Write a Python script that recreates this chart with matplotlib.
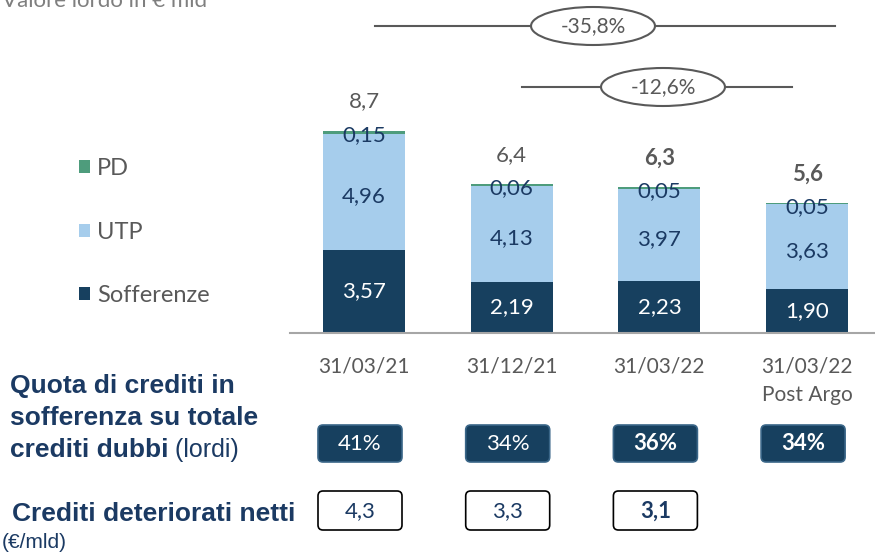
import matplotlib
matplotlib.use('Agg')
import matplotlib.pyplot as plt
from matplotlib.patches import Ellipse, FancyBboxPatch
import numpy as np

categories = ['31/03/21', '31/12/21', '31/03/22', '31/03/22\nPost Argo']
sofferenze = [3.57, 2.19, 2.23, 1.90]
utp = [4.96, 4.13, 3.97, 3.63]
pd_vals = [0.15, 0.06, 0.05, 0.05]
totals = ['8,7', '6,4', '6,3', '5,6']
totals_bold = [False, False, True, True]
quota = ['41%', '34%', '36%', '34%']
quota_bold = [False, False, True, True]
netti = ['4,3', '3,3', '3,1']
netti_bold = [False, False, True]
deltas = ['-35,8%', '-12,6%']

navy = '#17405F'
light = '#A6CDEC'
green = '#4E9C7C'
grey = '#595959'
txtnavy = '#1B3A63'
font = 'Lato'

W, H = 875, 554
fig = plt.figure(figsize=(W / 100, H / 100), dpi=100)

# bar axes: baseline at y=333px, left edge 290px
base = 333
ppu = 23.3
ax = fig.add_axes([290 / W, (H - base) / H, 585 / W, base / H])
ax.set_ylim(0, base / ppu)
x = np.arange(len(categories))
sp = 147.7
ax.set_xlim((290 - 364) / sp, (875 - 364) / sp)
bw = 82 / sp

s = np.array(sofferenze)
u = np.array(utp)
p = np.array(pd_vals)
b1 = ax.bar(x, s, bw, color=navy, label='Sofferenze')
b2 = ax.bar(x, u, bw, bottom=s, color=light, label='UTP')
b3 = ax.bar(x, p, bw, bottom=s + u, color=green, label='PD')

for i in x:
    ax.text(i, s[i] / 2, f'{sofferenze[i]:.2f}'.replace('.', ','), ha='center', va='center',
            color='white', fontsize=16, family=font)
    ax.annotate(f'{utp[i]:.2f}'.replace('.', ','), (i, s[i] + u[i] / 2), xytext=(0, -3),
                textcoords='offset points', ha='center', va='center', color=txtnavy,
                fontsize=16, family=font)
    top = s[i] + u[i] + p[i]
    ax.annotate(f'{pd_vals[i]:.2f}'.replace('.', ','), (i, top), xytext=(0, -3),
                textcoords='offset points', ha='center', va='center', color=txtnavy,
                fontsize=16, family=font)
    ax.annotate(totals[i], (i, top), xytext=(0, 21), textcoords='offset points',
                ha='center', va='center', color=grey, fontsize=16, family=font,
                fontweight='bold' if totals_bold[i] else 'normal')
    ax.annotate(categories[i], (i, 0), xytext=(0, -17), textcoords='offset points',
                ha='center', va='top', color=grey, fontsize=15, family=font,
                linespacing=1.55)

for sp_name in ['top', 'right', 'left']:
    ax.spines[sp_name].set_visible(False)
ax.spines['bottom'].set_color('#A6A6A6')
ax.spines['bottom'].set_linewidth(1.5)
ax.set_xticks([])
ax.set_yticks([])
ax.patch.set_alpha(0)

fig.legend(handles=[b3, b2, b1], loc='upper left', bbox_to_anchor=(58 / W, 1 - 137 / H),
           frameon=False, handlelength=0.45, handleheight=0.45, handletextpad=0.3,
           labelspacing=1.8, prop={'family': font, 'size': 17}, labelcolor=grey)

# overlay in pixel coordinates for annotations
ov = fig.add_axes([0, 0, 1, 1], zorder=-1)
ov.set_xlim(0, W)
ov.set_ylim(H, 0)
ov.axis('off')

ov.text(207, 7, 'Valore lordo in € mld', ha='right', va='baseline', color='#7F7F7F',
        fontsize=16, family=font)

# delta brackets
for (x0, x1, cx, cy), lab in zip([(375, 835, 593, 26), (522, 792, 663, 87)], deltas):
    ov.plot([x0, cx - 62], [cy, cy], color=grey, lw=1.5)
    ov.plot([cx + 62, x1], [cy, cy], color=grey, lw=1.5)
    ov.add_patch(Ellipse((cx, cy), 124, 38, facecolor='white', edgecolor=grey, lw=1.5))
    ov.text(cx, cy, lab, ha='center', va='center', color=grey, fontsize=15, family=font)

# left labels
bold_kw = dict(color=txtnavy, fontsize=19, fontweight='bold', family='Liberation Sans')
ov.text(10, 386, 'Quota di crediti in', va='center', **bold_kw)
ov.text(10, 418, 'sofferenza su totale', va='center', **bold_kw)
t = ov.text(10, 450, 'crediti dubbi', va='center', **bold_kw)
ov.annotate(' (lordi)', xy=(1, 0.5), xycoords=t, va='center', ha='left', color=txtnavy,
            fontsize=18, family='Liberation Sans')
ov.text(12, 514, 'Crediti deteriorati netti', va='center', **bold_kw)
ov.text(2, 543, '(€/mld)', va='center', color=txtnavy, fontsize=15, family='Liberation Sans')

# boxes below the chart
for i in range(len(quota)):
    cx = 360 + sp * i
    ov.add_patch(FancyBboxPatch((cx - 42, 425), 84, 37, boxstyle='round,pad=0,rounding_size=5',
                                facecolor=navy, edgecolor='#3A6688', lw=1.2))
    ov.text(cx, 444, quota[i], ha='center', va='center', color='white', fontsize=16,
            family=font, fontweight='bold' if quota_bold[i] else 'normal')
for i in range(len(netti)):
    cx = 360 + sp * i
    ov.add_patch(FancyBboxPatch((cx - 42, 491), 84, 39, boxstyle='round,pad=0,rounding_size=5',
                                facecolor='white', edgecolor='black', lw=1.2))
    ov.text(cx, 511, netti[i], ha='center', va='center', color=txtnavy, fontsize=16,
            family=font, fontweight='bold' if netti_bold[i] else 'normal')

fig.savefig('out.png', dpi=100)
